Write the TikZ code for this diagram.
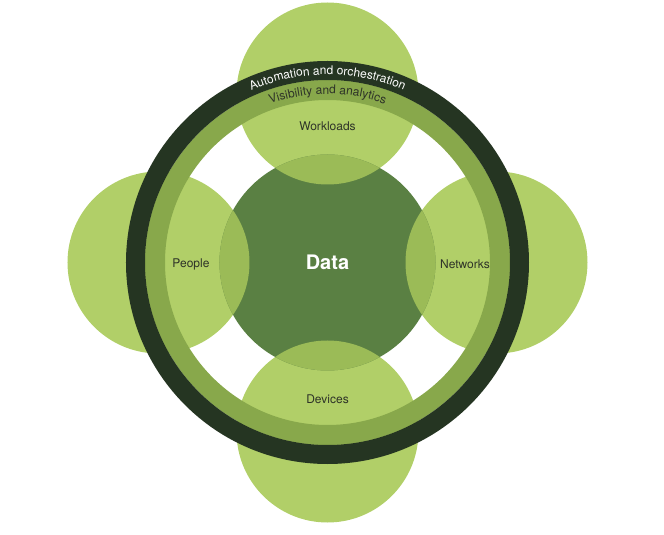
\documentclass[tikz,border=0pt]{standalone}
\usepackage{fontspec}
\setmainfont{TeX Gyre Heros}
\usetikzlibrary{decorations.text}
\definecolor{leaf}{HTML}{B1CF68}
\definecolor{lensgreen}{HTML}{9BBB57}
\definecolor{core}{HTML}{5A8043}
\definecolor{visring}{HTML}{88A84B}
\definecolor{autoring}{HTML}{253522}
\definecolor{ink}{HTML}{2E3328}

\begin{document}
\begin{tikzpicture}[x=1pt,y=1pt,
  petal/.style={circle,fill=leaf,minimum size=182pt,inner sep=0pt},
  lbl/.style={text=ink,font=\fontsize{12}{14}\selectfont}]
\useasboundingbox (-327.5,-272.5) rectangle (336.5,262.5);
\node[petal] (workloads) at (0,169) {};
\node[petal] (people) at (-169,0) {};
\node[petal] (networks) at (169,0) {};
\node[petal] (devices) at (0,-169) {};
\node[circle,fill=core,minimum size=216pt,inner sep=0pt,text=white,
  font=\bfseries\fontsize{20}{24}\selectfont] (data) at (0,0) {Data};
\begin{scope}
\clip (data.center) circle (108);
\foreach \p in {workloads,people,networks,devices}
  \fill[lensgreen] (\p.center) circle (91);
\end{scope}
\draw[visring,line width=20pt] (data.center) circle (172.5);
\draw[autoring,line width=19pt] (data.center) circle (192);
\path[decorate,decoration={text along path,text align=center,
  text={|\color{white}\fontsize{12}{14}\selectfont|Automation and orchestration}}]
  (180:188) arc (180:0:188);
\path[decorate,decoration={text along path,text align=center,
  text={|\color{ink}\fontsize{12}{14}\selectfont|Visibility and analytics}}]
  (180:168.5) arc (180:0:168.5);
\node[lbl] (wl) at (0,136.5) {Workloads};
\node[lbl] (pl) at (-136.5,-1.5) {People};
\node[lbl] (nl) at (137.5,-1.5) {Networks};
\node[lbl] (dl) at (0,-136.5) {Devices};
\end{tikzpicture}
\end{document}
